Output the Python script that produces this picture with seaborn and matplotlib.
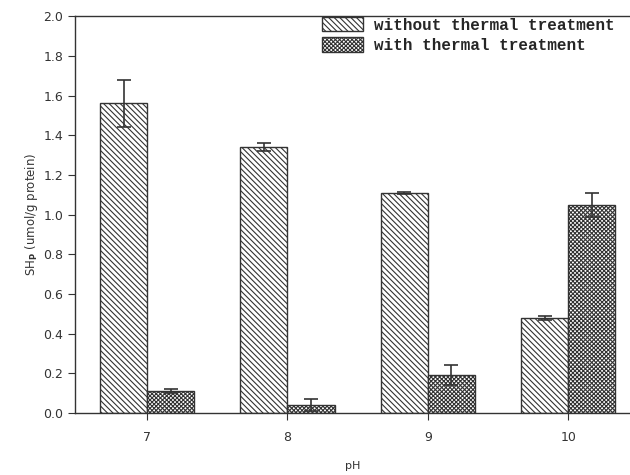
import matplotlib
matplotlib.use("Agg")
from matplotlib import pyplot as plt
import seaborn as sns
import pandas as pd

ph_levels = ["7", "8", "9", "10"]
groups = ["without thermal treatment", "with thermal treatment"]
sh_without = [1.56, 1.34, 1.11, 0.48]
err_without = [0.12, 0.02, 0.005, 0.01]
sh_with = [0.11, 0.04, 0.19, 1.05]
err_with = [0.01, 0.03, 0.05, 0.06]

df = pd.DataFrame({
    "pH": ph_levels * 2,
    "group": [groups[0]] * 4 + [groups[1]] * 4,
    "sh": sh_without + sh_with,
    "err": err_without + err_with,
})

sns.set_style("ticks")
plt.rcParams["hatch.linewidth"] = 0.8
plt.rcParams["hatch.color"] = "#4a4a4a"

fig = plt.figure(figsize=(6.3, 4.75), dpi=100)
ax = fig.add_axes([0.119, 0.1305, 0.881, 0.8355])

sns.barplot(data=df, x="pH", y="sh", hue="group", order=ph_levels,
            hue_order=groups, width=0.67, errorbar=None, ax=ax,
            palette=["white", "white"], edgecolor="#333333", linewidth=1.0)

hatches = ["\\\\\\\\\\\\", "xxxxxxxx"]
for container, hatch, errs in zip(ax.containers, hatches, [err_without, err_with]):
    xs, ys = [], []
    for bar in container:
        bar.set_hatch(hatch)
        xs.append(bar.get_x() + bar.get_width() / 2)
        ys.append(bar.get_height())
    ax.errorbar(xs, ys, yerr=errs, fmt="none", ecolor="#333333",
                elinewidth=1.2, capsize=5, capthick=1.2)

handles, labels = ax.get_legend_handles_labels()
for h, hatch in zip(handles, hatches):
    h.set_hatch(hatch)
ax.legend(handles, labels, loc="upper right", frameon=False,
          prop={"family": "Liberation Mono", "weight": "bold", "size": 11.5},
          handlelength=2.6, handleheight=1.0, borderaxespad=0.2,
          labelspacing=0.3, handletextpad=0.7, bbox_to_anchor=(0.99, 1.022))

ax.set_xlim(-0.514, 3.44)
ax.set_ylim(0, 2.0)
ax.set_yticks([0.0, 0.2, 0.4, 0.6, 0.8, 1.0, 1.2, 1.4, 1.6, 1.8, 2.0])
ax.set_yticklabels([f"{v:.1f}" for v in ax.get_yticks()])
ax.set_xlabel("pH", fontsize=8, color="#333333", labelpad=12)
ax.set_ylabel("SH$_\\mathbf{P}$ (umol/g protein)", fontsize=8.5, color="#333333", labelpad=2)
ax.tick_params(axis="both", labelsize=9, colors="#333333")
ax.tick_params(axis="x", direction="inout", length=10, pad=8)
ax.tick_params(axis="y", direction="out", length=5)
for s in ["left", "bottom", "top"]:
    ax.spines[s].set_color("#333333")
    ax.spines[s].set_linewidth(1.0)
ax.spines["right"].set_visible(False)

fig.savefig("out.png", dpi=100)
